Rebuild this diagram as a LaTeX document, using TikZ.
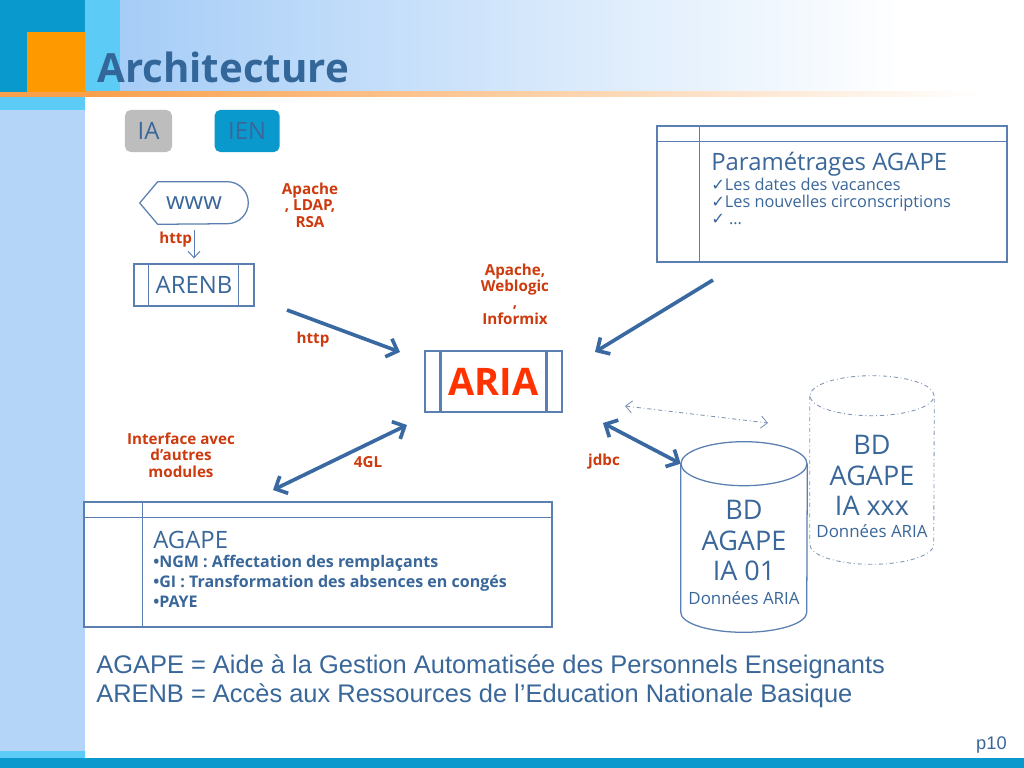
\documentclass[tikz,border=0pt]{standalone}
\usepackage{fontspec}
\setmainfont{Open Sans}
\newfontfamily\legendfont{Liberation Sans}
\newfontfamily\symfont{DejaVu Sans}
\usetikzlibrary{arrows.meta,calc,positioning}

\definecolor{titleblue}{HTML}{336699}
\definecolor{textblue}{HTML}{3A679A}
\definecolor{lineblue}{HTML}{5B7FB0}
\definecolor{arrowblue}{HTML}{3A69A2}
\definecolor{labelred}{HTML}{CC3A0E}
\definecolor{ariared}{HTML}{FF3300}
\definecolor{tealdark}{HTML}{0A99CC}
\definecolor{orangesq}{HTML}{FF9900}
\definecolor{cyanbar}{HTML}{5CCCF7}
\definecolor{orangeline}{HTML}{F8A04C}
\definecolor{hdleft}{HTML}{A6CDF7}
\definecolor{hdmid}{HTML}{DDECFC}
\definecolor{sideblue}{HTML}{B4D5F8}
\definecolor{taggray}{HTML}{BDBDBD}
\definecolor{tagblue}{HTML}{0A99CC}
\definecolor{dashgray}{HTML}{7E92B5}

\tikzset{
  boxline/.style={draw=lineblue, line width=0.9pt},
  block/.style={boxline, rectangle, inner sep=0pt},
  tag/.style={rectangle, rounded corners=4pt, minimum height=1.05cm, inner sep=0pt,
    text=textblue, font=\fontsize{17}{17}\selectfont},
  redlabel/.style={text=labelred, font=\bfseries\fontsize{10.8}{11.7}\selectfont,
    align=center, inner sep=0pt},
  bluetext/.style={text=textblue, inner sep=0pt},
  dbtext/.style={bluetext, align=center, font=\fontsize{19.2}{21.8}\selectfont},
  dbsmall/.style={bluetext, font=\fontsize{12}{12}\selectfont},
  fatarrow/.style={draw=arrowblue, line width=2.6pt},
  thinarrow/.style={draw=lineblue, line width=0.7pt,
    -{Straight Barb[length=1.6mm,width=3mm]}},
  dashdotline/.style={draw=dashgray, line width=0.6pt,
    dash pattern=on 3pt off 2pt on 0.6pt off 2pt}
}

\begin{document}
\begin{tikzpicture}[
    x=0.025cm, y=-0.025cm,
    node distance=1cm,
    >={Straight Barb[length=2.4mm,width=4.8mm]}
  ]
  % Background
  \useasboundingbox (0,0) rectangle (1024,768);
  \fill[white] (0,0) rectangle (1024,768);
  \shade[left color=hdleft, right color=hdmid] (120,0) rectangle (600,92);
  \shade[left color=hdmid, right color=white] (600,0) rectangle (900,92);
  \fill[tealdark] (0,0) rectangle (85,92);
  \fill[orangesq] (27,32) rectangle (85,92);
  \fill[cyanbar] (85,0) rectangle (120,92);
  \fill[orangeline] (0,92) rectangle (85,97);
  \shade[left color=orangeline, right color=white] (85,92) rectangle (980,97);
  \fill[cyanbar] (0,97) rectangle (85,110);
  \fill[sideblue] (0,110) rectangle (85,751);
  \fill[cyanbar] (0,751) rectangle (85,758);
  \fill[tealdark] (0,758) rectangle (1024,768);

  % Title
  \node[anchor=west, inner sep=0pt, text=titleblue,
        font=\bfseries\fontsize{28.6}{28.6}\selectfont] (title) at (97,67) {Architecture};

  % Blocks
  \node[tag, fill=taggray, minimum width=1.175cm] (ia) at (148.5,131) {IA};
  \node[tag, fill=tagblue, minimum width=1.625cm, right=1.05cm of ia] (ien) {IEN};

  \node[bluetext, minimum width=2.7cm, minimum height=1.05cm,
        font=\fontsize{17}{17}\selectfont] (www) at (194,203) {www};
  \node[block, minimum width=3cm, minimum height=1.05cm, below=0.975cm of www,
        text=textblue, font=\fontsize{17}{17}\selectfont] (arenb) {ARENB};

  \node[block, line width=1.8pt, minimum width=3.425cm, minimum height=1.525cm,
        text=ariared, font=\bfseries\fontsize{27}{27}\selectfont] (aria) at (493.5,381.5) {ARIA};

  \node[block, minimum width=8.75cm, minimum height=3.4cm] (param) at (832,194) {};
  \node[bluetext, anchor=west, font=\fontsize{17}{17}\selectfont] (paramtitle) at (711,164)
    {Paramétrages AGAPE};
  \node[bluetext, anchor=north west, align=left, font=\fontsize{11.6}{12.1}\selectfont]
    (paramlist) at (711,178)
    {{\symfont ✓}Les dates des vacances\\{\symfont ✓}Les nouvelles circonscriptions\\{\symfont ✓} …};

  \node[block, minimum width=11.7cm, minimum height=3.125cm] (agape) at (318,564.5) {};
  \node[bluetext, anchor=west, font=\fontsize{17}{17}\selectfont] (agapetitle) at (153,540)
    {AGAPE};
  \node[bluetext, anchor=north west, align=left, font=\bfseries\fontsize{11.4}{14.2}\selectfont]
    (agapelist) at (153,555)
    {•NGM : Affectation des remplaçants\\•GI : Transformation des absences en congés\\•PAYE};

  \node[minimum width=3.15cm, minimum height=3.7cm, inner sep=0pt] (bd1) at (744,538) {};
  \node[dbtext] (bd1text) at (744,540.5) {BD\\AGAPE\\IA 01};
  \node[dbsmall] (bd1data) at (744,598) {Données ARIA};

  \node[minimum width=3.1cm, minimum height=3.7cm, inner sep=0pt] (bdx) at (872,470) {};
  \node[dbtext] (bdxtext) at (872,475.5) {BD\\AGAPE\\IA xxx};
  \node[dbsmall] (bdxdata) at (872,531) {Données ARIA};

  % Outlines
  \draw[boxline] (www.west) -- ([xshift=0.45cm]www.north west)
    -- ([xshift=-0.525cm]www.north east) arc[start angle=90, end angle=-90, radius=0.525cm]
    -- ([xshift=0.45cm]www.south west) -- cycle;
  \draw[boxline] ([xshift=0.375cm]arenb.north west) -- ([xshift=0.375cm]arenb.south west);
  \draw[boxline] ([xshift=-0.4cm]arenb.north east) -- ([xshift=-0.4cm]arenb.south east);
  \draw[boxline, line width=1.8pt] ([xshift=0.425cm]aria.north west) -- ([xshift=0.425cm]aria.south west);
  \draw[boxline, line width=1.8pt] ([xshift=-0.425cm]aria.north east) -- ([xshift=-0.425cm]aria.south east);
  \draw[boxline] ([yshift=-0.4cm]param.north west) -- ([yshift=-0.4cm]param.north east);
  \draw[boxline] ([xshift=1.075cm]param.north west) -- ([xshift=1.075cm]param.south west);
  \draw[boxline] ([yshift=-0.4cm]agape.north west) -- ([yshift=-0.4cm]agape.north east);
  \draw[boxline] ([xshift=1.475cm]agape.north west) -- ([xshift=1.475cm]agape.south west);

  \draw[boxline] (bd1.north) ellipse[x radius=1.575cm, y radius=0.55cm];
  \draw[boxline] (bd1.north west) -- (bd1.south west)
    arc[start angle=180, end angle=360, x radius=1.575cm, y radius=0.5cm] -- (bd1.north east);
  \draw[dashdotline] (bdx.north) ellipse[x radius=1.55cm, y radius=0.5cm];
  \draw[dashdotline] (bdx.north west) -- (bdx.south west)
    arc[start angle=180, end angle=360, x radius=1.55cm, y radius=0.5cm] -- (bdx.north east);

  % Labels
  \node[redlabel] (lblldap) at (310,205) {Apache\\, LDAP,\\RSA};
  \node[redlabel] (lblweblogic) at (515,294) {Apache,\\Weblogic\\,\\Informix};
  \node[redlabel] (lblhttp) at (313,340) {http};
  \node[redlabel] (lbl4gl) at (368,462) {4GL};
  \node[redlabel] (lbljdbc) at (604,462) {jdbc};
  \node[redlabel] (lblmodules) at (181,455) {Interface avec\\d’autres\\modules};

  % Connection end points
  \coordinate (httpstart) at (287,310);
  \coordinate (httpend) at (400,352);
  \coordinate (paramstart) at (713,280);
  \coordinate (paramend) at (595,352);
  \coordinate (glaria) at (407,425);
  \coordinate (glmodules) at (273,490);
  \coordinate (jdbcaria) at (603,423);
  \coordinate (syncaria) at (625,406);
  \coordinate (syncbd) at (768,423);

  % Connections
  \draw[thinarrow, shorten <=4pt, shorten >=3.5pt] (www) -- node[redlabel, left=1pt, pos=0.4] {http} (arenb);
  \draw[fatarrow, ->] (httpstart) -- (httpend);
  \draw[fatarrow, ->] (paramstart) -- (paramend);
  \draw[fatarrow, <->] (glaria) -- (glmodules);
  \draw[fatarrow, <->] (jdbcaria) -- (bd1.north west);
  \draw[dashdotline, {Straight Barb[length=1.6mm,width=3mm]}-{Straight Barb[length=1.6mm,width=3mm]}]
    (syncaria) -- (syncbd);

  % Legend
  \node[anchor=north west, inner sep=0pt, align=left, text=textblue,
        font=\legendfont\fontsize{18.1}{21.3}\selectfont] (legend) at (96,654)
    {AGAPE = Aide à la Gestion Automatisée des Personnels Enseignants\\
     ARENB = Accès aux Ressources de l’Education Nationale Basique};
  \node[anchor=east, inner sep=0pt, text=textblue,
        font=\legendfont\fontsize{13}{13}\selectfont] (page) at (1007,745) {p10};
\end{tikzpicture}
\end{document}
